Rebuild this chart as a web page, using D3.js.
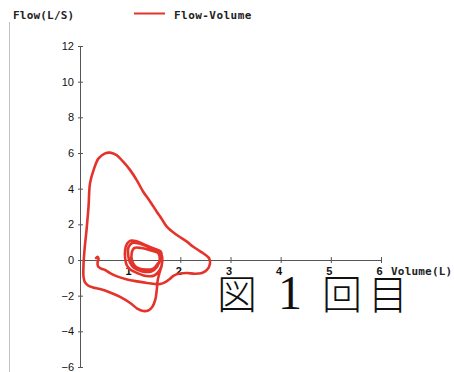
<!DOCTYPE html>
<html>
<head>
<meta charset="utf-8">
<script src="https://cdn.jsdelivr.net/npm/d3@7/dist/d3.min.js"></script>
<style>
  html, body { margin: 0; padding: 0; background: #fff; }
  svg { display: block; }
</style>
</head>
<body>
<div id="chart"></div>
<script>
// Flow-volume loop: one continuous trace (volume in L, flow in L/S)
const seriesName = "Flow-Volume";
const volume = [
  0.32, 0.35, 0.37, 0.35, 0.36, 0.42, 0.50, 0.60, 0.74, 0.94, 1.14, 1.34, 1.50, 1.60, 1.69, 1.79, 1.87, 1.99, 2.13, 2.29, 2.43, 2.53, 2.59, 2.58, 2.55,
  2.49, 2.39, 2.25, 2.13, 1.93, 1.73, 1.60, 1.53, 1.40, 1.26, 1.13, 1.00, 0.86, 0.73, 0.60, 0.50, 0.37, 0.27, 0.20, 0.17, 0.13, 0.09, 0.07, 0.07,
  0.10, 0.16, 0.26, 0.40, 0.60, 0.80, 1.00, 1.14, 1.26, 1.36, 1.44, 1.50, 1.53, 1.55, 1.59, 1.63,
  1.63, 1.61, 1.48, 1.30, 1.14, 1.02, 0.94, 0.90, 0.90, 0.93, 1.00, 1.14, 1.32, 1.48, 1.59, 1.64, 1.62, 1.54, 1.36, 1.18, 1.04, 0.97, 0.96, 1.00,
  1.08, 1.24, 1.42, 1.54, 1.59, 1.56, 1.42, 1.22, 1.08, 1.03, 1.04, 1.12, 1.30, 1.46, 1.56
];
const flow = [
  0.11, 0.18, 0.08, -0.14, -0.36, -0.48, -0.56, -0.73, -0.92, -1.09, -1.20, -1.29, -1.35, -1.35, -1.26, -1.06, -0.87, -0.76, -0.73, -0.77, -0.73, -0.56, -0.22, 0.06, 0.17,
  0.31, 0.50, 0.76, 1.03, 1.40, 1.87, 2.43, 2.71, 3.27, 3.83, 4.48, 5.04, 5.51, 5.88, 6.02, 5.98, 5.70, 5.04, 4.31, 2.99, 1.68, 0.56, -0.28, -0.95,
  -1.26, -1.43, -1.54, -1.63, -1.82, -2.07, -2.41, -2.72, -2.86, -2.83, -2.63, -2.24, -1.68, -1.12, -0.67, -0.28,
  0.11, 0.48, 0.64, 0.84, 1.04, 1.09, 0.92, 0.56, 0.11, -0.28, -0.53, -0.73, -0.90, -0.87, -0.56, -0.11, 0.34, 0.56, 0.73, 0.92, 0.95, 0.73, 0.28, -0.17,
  -0.45, -0.64, -0.64, -0.36, 0.06, 0.39, 0.53, 0.67, 0.67, 0.39, -0.06, -0.39, -0.53, -0.48, -0.17
];
const xTicks = [1, 2, 3, 4, 5, 6];
const yTicks = [-6, -4, -2, 0, 2, 4, 6, 8, 10, 12];
const xTitle = "Volume(L)";
const yTitle = "Flow(L/S)";
const caption = ["図", "1", "回", "目"];

const W = 454, H = 372;
const lineColor = "#e4332b";
const monoFont = "'DejaVu Sans Mono', monospace";

const svg = d3.select("#chart").append("svg")
  .attr("width", W).attr("height", H)
  .attr("viewBox", `0 0 ${W} ${H}`);

svg.append("rect").attr("width", W).attr("height", H).attr("fill", "#fff");

// scanned page edge on the left
svg.append("line")
  .attr("x1", 9.5).attr("x2", 9.5).attr("y1", 22).attr("y2", H)
  .attr("stroke", "#c2c2c2").attr("stroke-width", 1);

const x = d3.scaleLinear().domain([0, 6]).range([80, 381]);
const y = d3.scaleLinear().domain([-6, 12]).range([367, 46]);

// y axis
const gy = svg.append("g")
  .attr("transform", `translate(${x(0)},0)`)
  .call(d3.axisLeft(y).tickValues(yTicks).tickSize(0).tickPadding(7).tickFormat(d3.format("d")));
gy.select(".domain").attr("stroke", "#555").attr("stroke-width", 1);
gy.selectAll(".tick line").attr("x1", -2).attr("x2", 3).attr("stroke", "#555");
gy.selectAll(".tick text")
  .attr("font-family", "'Liberation Sans', Arial, sans-serif")
  .attr("font-size", 11).attr("fill", "#111").attr("x", -6);

// x axis on the zero-flow line
const gx = svg.append("g")
  .attr("transform", `translate(0,${y(0)})`)
  .call(d3.axisBottom(x).tickValues(xTicks).tickSize(0).tickFormat(d3.format("d")));
gx.select(".domain").attr("stroke", "#555").attr("stroke-width", 1);
gx.selectAll(".tick line").attr("y1", -3).attr("y2", 3).attr("stroke", "#555");
gx.selectAll(".tick text")
  .attr("font-family", "'Liberation Sans', Arial, sans-serif")
  .attr("font-size", 11).attr("font-weight", "bold").attr("fill", "#111")
  .attr("y", 14.5).attr("dy", null).attr("dx", -2);

// axis titles
svg.append("text").attr("x", 13).attr("y", 19)
  .attr("font-family", monoFont).attr("font-size", 11).attr("font-weight", "bold")
  .attr("letter-spacing", 0.2).attr("fill", "#222").text(yTitle);
svg.append("text").attr("x", 391).attr("y", 274.5)
  .attr("font-family", monoFont).attr("font-size", 11).attr("font-weight", "bold")
  .attr("letter-spacing", 0.2).attr("fill", "#222").text(xTitle);

// legend
svg.append("line").attr("x1", 134).attr("x2", 165).attr("y1", 13.5).attr("y2", 13.5)
  .attr("stroke", lineColor).attr("stroke-width", 2);
svg.append("text").attr("x", 174).attr("y", 18.5)
  .attr("font-family", monoFont).attr("font-size", 11).attr("font-weight", "bold")
  .attr("letter-spacing", 0.45).attr("fill", "#222").text(seriesName);

// the loop trace
const pts = volume.map((v, i) => [v, flow[i]]);
const line = d3.line().x(d => x(d[0])).y(d => y(d[1])).curve(d3.curveCatmullRom.alpha(0.5));
svg.append("path").datum(pts)
  .attr("d", line)
  .attr("fill", "none")
  .attr("stroke", lineColor)
  .attr("stroke-width", 2.6)
  .attr("stroke-linejoin", "round")
  .attr("stroke-linecap", "round");

// caption
const capX = [237, 290, 342, 388];
const cap = svg.append("text").attr("y", 309).attr("fill", "#111").attr("text-anchor", "middle");
caption.forEach((c, i) => {
  cap.append("tspan")
    .attr("x", capX[i])
    .attr("font-family", c === "1" ? "'Liberation Serif', serif" : "'Noto Sans CJK JP', sans-serif")
    .attr("font-size", c === "1" ? 48 : 40)
    .attr("font-weight", c === "1" ? "normal" : 300)
    .text(c);
});
</script>
</body>
</html>
